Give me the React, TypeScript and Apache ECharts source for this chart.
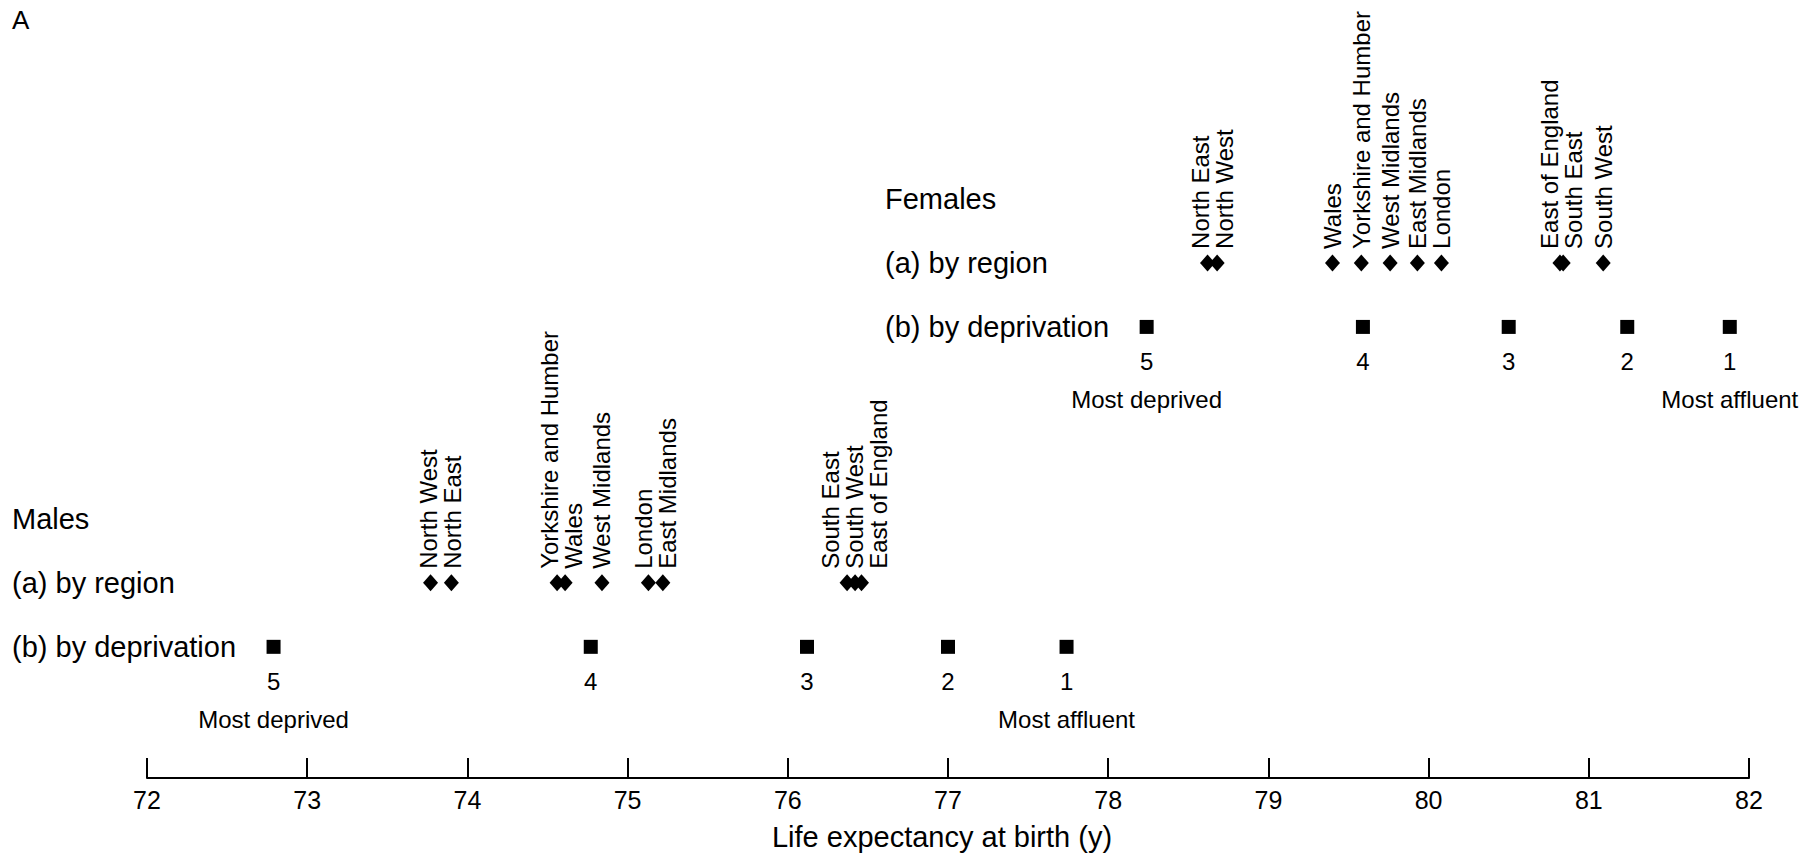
import React, { useEffect, useRef } from "react";
import * as echarts from "echarts";

// ---------- data ----------
const X_MIN = 72;
const X_MAX = 82;
const X_STEP = 1;

const panelLabel = "A";
const xAxisTitle = "Life expectancy at birth (y)";

const maleRegions = [
  "North West",
  "North East",
  "Yorkshire and Humber",
  "Wales",
  "West Midlands",
  "London",
  "East Midlands",
  "South East",
  "South West",
  "East of England",
];
const maleRegionLE = [73.77, 73.9, 74.56, 74.61, 74.84, 75.13, 75.22, 76.37, 76.42, 76.46];

const femaleRegions = [
  "North East",
  "North West",
  "Wales",
  "Yorkshire and Humber",
  "West Midlands",
  "East Midlands",
  "London",
  "East of England",
  "South East",
  "South West",
];
const femaleRegionLE = [78.62, 78.68, 79.4, 79.58, 79.76, 79.93, 80.08, 80.82, 80.84, 81.09];

const quintiles = ["5", "4", "3", "2", "1"];
const maleQuintileLE = [72.79, 74.77, 76.12, 77.0, 77.74];
const femaleQuintileLE = [78.24, 79.59, 80.5, 81.24, 81.88];
const quintileNotes: Record<string, string> = { "5": "Most deprived", "1": "Most affluent" };

const maleTitles = ["Males", "(a) by region", "(b) by deprivation"];
const femaleTitles = ["Females", "(a) by region", "(b) by deprivation"];

// row index on the hidden vertical axis
const ROW = { maleDep: 0, maleRegion: 1, maleTitle: 2, femaleDep: 5, femaleRegion: 6, femaleTitle: 7 };

// ---------- style ----------
const FONT = '"Liberation Sans", Arial, sans-serif';
const INK = "#000";

// spread label columns so they keep a minimum gap, balanced around clusters
function spread(px: number[], gap: number): number[] {
  const order = px.map((_, i) => i).sort((a, b) => px[a] - px[b]);
  let clusters = order.map((i) => ({ idx: [i], sum: px[i] }));
  const pos = (c: { idx: number[]; sum: number }, k: number) =>
    c.sum / c.idx.length + (k - (c.idx.length - 1) / 2) * gap;
  let changed = true;
  while (changed) {
    changed = false;
    for (let j = 0; j < clusters.length - 1; j++) {
      const a = clusters[j];
      const b = clusters[j + 1];
      if (pos(a, a.idx.length - 1) + gap > pos(b, 0) + 1e-6) {
        clusters.splice(j, 2, { idx: a.idx.concat(b.idx), sum: a.sum + b.sum });
        changed = true;
        break;
      }
    }
  }
  const out: number[] = new Array(px.length);
  clusters.forEach((c) => c.idx.forEach((i, k) => (out[i] = pos(c, k))));
  return out;
}

function regionLabelSeries(names: string[], values: number[], row: number) {
  return {
    type: "custom",
    silent: true,
    z: 3,
    data: values.map((v) => [v, row]),
    renderItem: (params: any, api: any) => {
      const pts = values.map((v) => api.coord([v, row]));
      const xs = spread(pts.map((p: number[]) => p[0]), 24);
      const i = params.dataIndex;
      return {
        type: "text",
        x: xs[i],
        y: pts[i][1] - 14,
        rotation: Math.PI / 2,
        style: {
          text: names[i],
          align: "left",
          verticalAlign: "middle",
          fontSize: 24,
          fontFamily: FONT,
          fill: INK,
        },
      };
    },
  };
}

function regionMarkerSeries(values: number[], row: number) {
  return {
    type: "scatter",
    symbol: "diamond",
    symbolSize: [15, 17],
    itemStyle: { color: INK, opacity: 1 },
    data: values.map((v) => [v, row]),
    z: 4,
  };
}

function quintileSeries(values: number[], row: number) {
  return {
    type: "scatter",
    symbol: "rect",
    symbolSize: 14,
    itemStyle: { color: INK, opacity: 1 },
    data: values.map((v) => [v, row]),
    z: 4,
    label: {
      show: true,
      position: "bottom",
      distance: 10,
      color: INK,
      opacity: 1,
      fontFamily: FONT,
      formatter: (p: any) => {
        const q = quintiles[p.dataIndex];
        const note = quintileNotes[q];
        return note ? `{n|${q}}\n{m|${note}}` : `{n|${q}}`;
      },
      rich: {
        n: { fontSize: 24, lineHeight: 36, fontFamily: FONT, color: INK },
        m: { fontSize: 24, lineHeight: 40, fontFamily: FONT, color: INK },
      },
    },
  };
}

export default function App() {
  const ref = useRef<HTMLDivElement>(null);

  useEffect(() => {
    if (!ref.current) return;
    const chart = echarts.init(ref.current, null, { renderer: "svg" });
    chart.setOption({
      animation: false,
      backgroundColor: "#fff",
      grid: { left: 147, right: 63, top: 7, bottom: 77, containLabel: false, outerBoundsMode: "none" },
      xAxis: {
        type: "value",
        min: X_MIN,
        max: X_MAX,
        interval: X_STEP,
        splitLine: { show: false },
        axisLine: { show: true, onZero: false, lineStyle: { color: INK, width: 2 } },
        axisTick: { show: true, inside: true, length: 20, lineStyle: { color: INK, width: 2 } },
        axisLabel: { color: INK, fontSize: 25, margin: 9, fontFamily: FONT },
        name: xAxisTitle,
        nameLocation: "middle",
        nameGap: 44,
        nameTextStyle: { color: INK, fontSize: 29, fontFamily: FONT, padding: [0, 12, 0, 0] },
      },
      yAxis: { type: "value", min: -2.05, max: 10, show: false },
      series: [
        regionMarkerSeries(maleRegionLE, ROW.maleRegion),
        regionLabelSeries(maleRegions, maleRegionLE, ROW.maleRegion),
        quintileSeries(maleQuintileLE, ROW.maleDep),
        regionMarkerSeries(femaleRegionLE, ROW.femaleRegion),
        regionLabelSeries(femaleRegions, femaleRegionLE, ROW.femaleRegion),
        quintileSeries(femaleQuintileLE, ROW.femaleDep),
      ],
    });

    const rowY = (r: number) => (chart.convertToPixel({ gridIndex: 0 }, [X_MIN, r]) as number[])[1];
    const titleRows = [ROW.maleTitle, ROW.maleRegion, ROW.maleDep];
    const femaleRows = [ROW.femaleTitle, ROW.femaleRegion, ROW.femaleDep];
    const textStyle = (text: string, size: number) => ({
      text,
      fontSize: size,
      fontFamily: FONT,
      fill: INK,
      align: "left",
      verticalAlign: "middle",
    });
    chart.setOption({
      graphic: [
        { type: "text", x: 12, y: 20, style: textStyle(panelLabel, 26) },
        ...maleTitles.map((t, i) => ({ type: "text", x: 12, y: rowY(titleRows[i]), style: textStyle(t, 29) })),
        ...femaleTitles.map((t, i) => ({ type: "text", x: 885, y: rowY(femaleRows[i]), style: textStyle(t, 29) })),
      ],
    });

    return () => chart.dispose();
  }, []);

  return (
    <div
      ref={ref}
      style={{ position: "absolute", left: 0, top: 0, width: 1812, height: 855, background: "#fff" }}
    />
  );
}
